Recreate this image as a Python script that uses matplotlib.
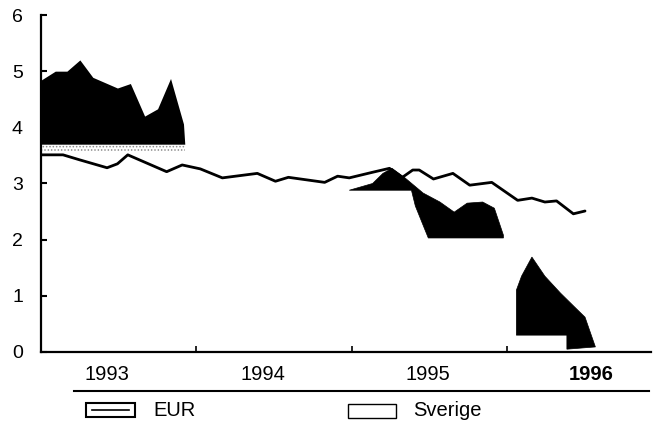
import numpy as np
import matplotlib.pyplot as plt
from matplotlib.patches import Rectangle
from matplotlib.lines import Line2D

plt.rcParams['font.family'] = ['Liberation Sans', 'DejaVu Sans']
plt.rcParams['hatch.color'] = '0.55'
plt.rcParams['hatch.linewidth'] = 0.7

# x values are months counted from January 1993
eur_m = [0, 1.7, 3.0, 5.1, 5.9, 6.7, 7.6, 9.7, 10.9, 12.3, 14.0, 16.7, 18.1, 19.1,
         21.9, 22.9, 23.8, 25.6, 26.9, 27.9, 28.7, 29.2, 30.3, 31.8, 33.1, 34.8,
         36.8, 37.9, 38.9, 39.8, 41.1, 42.0]
eur_v = [3.51, 3.51, 3.42, 3.28, 3.35, 3.51, 3.42, 3.21, 3.33, 3.26, 3.10, 3.18, 3.04, 3.11,
         3.02, 3.13, 3.10, 3.20, 3.27, 3.11, 3.24, 3.24, 3.08, 3.18, 2.97, 3.02,
         2.70, 2.74, 2.67, 2.69, 2.46, 2.51]

# Sverige, three blocks
sve1_m = [0, 1.1, 2.0, 3.0, 4.0, 5.9, 6.9, 8.0, 9.0, 10.0, 11.0, 11.1]
sve1_top = [4.84, 5.0, 5.0, 5.2, 4.89, 4.7, 4.78, 4.2, 4.33, 4.87, 4.06, 3.7]
sve1_base = 3.7
sve1_band = 3.58

sve2_m = [23.8, 25.6, 26.4, 27.1, 28.1, 29.5, 30.8, 31.9, 32.9, 34.1, 35.0, 35.7,
          35.7, 29.9, 29.6, 28.9, 28.6]
sve2_v = [2.88, 3.0, 3.18, 3.27, 3.1, 2.83, 2.67, 2.49, 2.65, 2.67, 2.56, 2.08,
          2.03, 2.03, 2.2, 2.6, 2.88]

sve3_m = [36.7, 36.7, 37.1, 37.9, 38.9, 40.1, 41.2, 42.0, 42.8, 40.6, 40.6]
sve3_v = [0.3, 1.1, 1.35, 1.69, 1.35, 1.05, 0.8, 0.62, 0.09, 0.05, 0.3]

years = ['1993', '1994', '1995', '1996']
year_pos = [5.1, 17.1, 29.9, 42.5]

fig = plt.figure(figsize=(6.56, 4.25), dpi=100)
ax = fig.add_axes([0.0625, 0.1718, 0.93, 0.7929])

# stippled band under the first block
ax.fill_between(sve1_m, sve1_band, sve1_base, facecolor='white', hatch='.....',
                edgecolor='0.55', linewidth=0)
ax.fill_between(sve1_m, sve1_base, sve1_top, color='black', linewidth=0)
ax.fill(sve2_m, sve2_v, color='black', linewidth=0.5)
ax.fill(sve3_m, sve3_v, color='black', linewidth=0.5)

ax.plot(eur_m, eur_v, color='black', lw=2, solid_joinstyle='round', solid_capstyle='round')

ax.set_xlim(0, 47.1)
ax.set_ylim(0, 6)
ax.spines['top'].set_visible(False)
ax.spines['right'].set_visible(False)
ax.spines['left'].set_linewidth(1.6)
ax.spines['bottom'].set_linewidth(1.6)

ax.set_yticks(range(7))
ax.tick_params(axis='y', direction='in', length=4, width=1.5, labelsize=14, pad=13)
ax.set_xticks([12, 24, 36])
ax.set_xticklabels([])
ax.tick_params(axis='x', direction='in', length=4, width=1.2)

for lab, xp in zip(years, year_pos):
    ax.text(xp, -0.068, lab, transform=ax.get_xaxis_transform(), ha='center', va='center',
            fontsize=14.5, fontweight='bold' if lab == '1996' else 'normal')

# separator line under the year labels
fig.add_artist(Line2D([0.113, 0.989], [0.08, 0.08], color='black', lw=1.5))

# legend
fig.add_artist(Rectangle((86 / 656, 0.019), 49 / 656, 0.033, facecolor='white',
                         edgecolor='black', lw=1.5))
fig.add_artist(Line2D([92 / 656, 129 / 656], [0.0355, 0.0355], color='black', lw=1.2))
fig.text(153 / 656, 0.035, 'EUR', ha='left', va='center', fontsize=14.5)
fig.add_artist(Rectangle((348 / 656, 0.017), 48 / 656, 0.033, facecolor='white',
                         edgecolor='black', lw=1.0))
fig.text(413 / 656, 0.035, 'Sverige', ha='left', va='center', fontsize=14.5)

fig.savefig('out.png', dpi=100)
